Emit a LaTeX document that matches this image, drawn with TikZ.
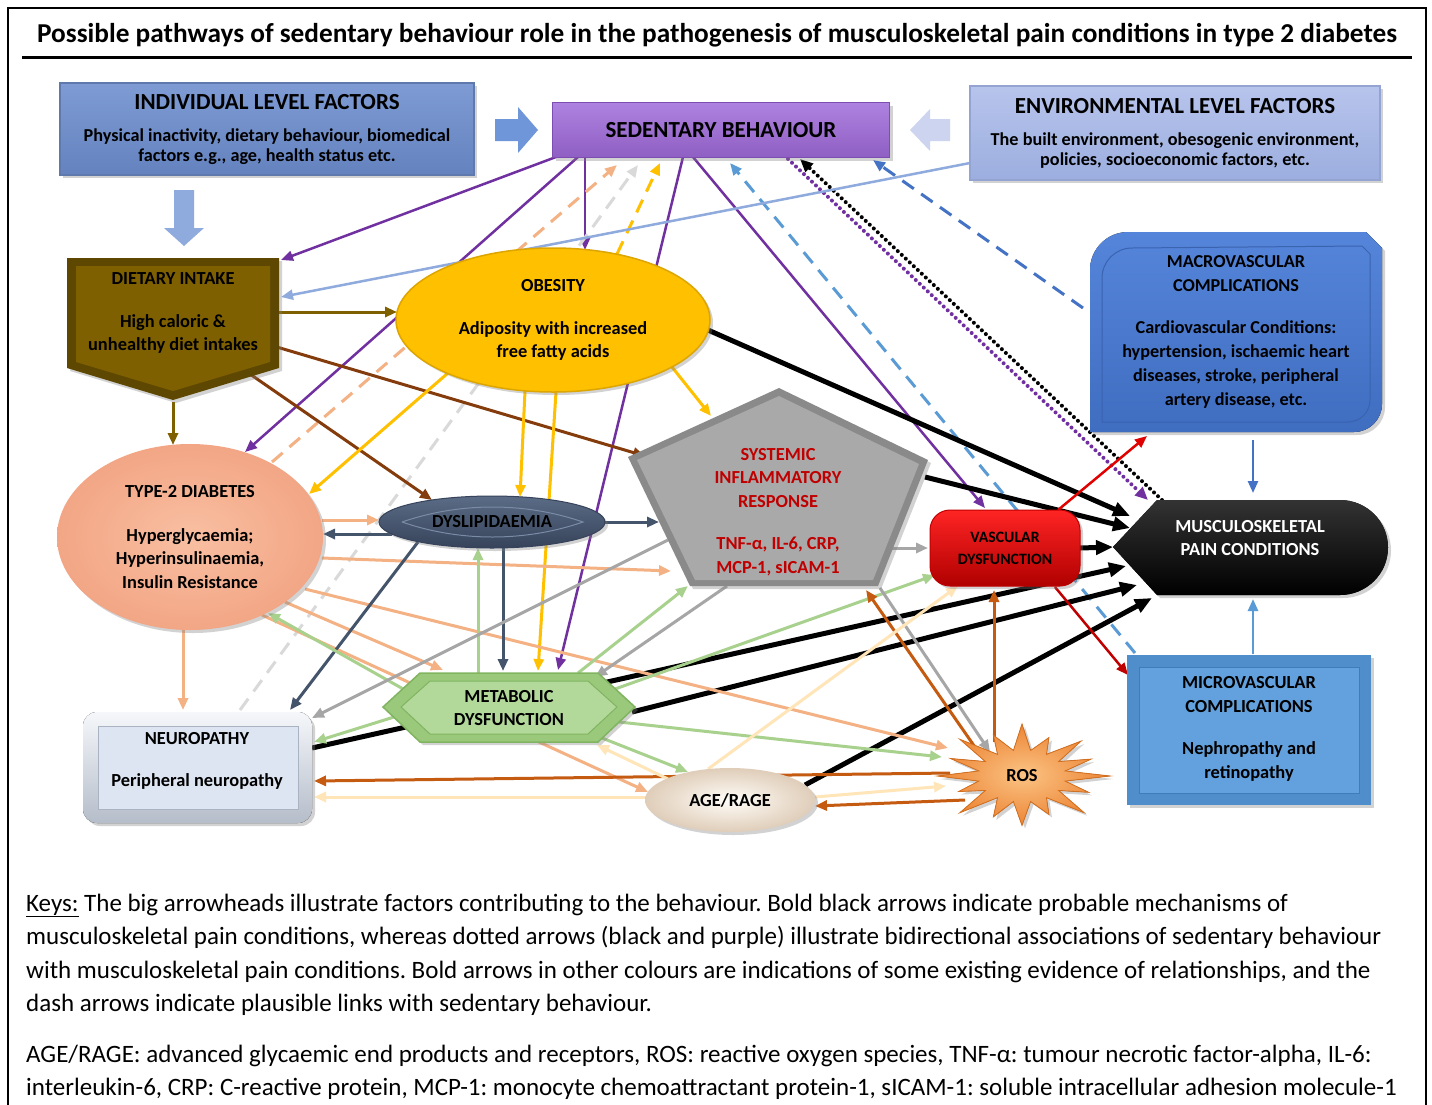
\documentclass[tikz,border=0pt]{standalone}
\usepackage{fontspec}
\setmainfont{Carlito}
\frenchspacing
\usetikzlibrary{arrows.meta,calc,shapes.geometric,shadows,backgrounds}

% arrow colours
\definecolor{cPurple}{HTML}{7030A0}
\definecolor{cSky}{HTML}{8FAADC}
\definecolor{cOlive}{HTML}{7F6000}
\definecolor{cBrown}{HTML}{843C0C}
\definecolor{cGold}{HTML}{FFC000}
\definecolor{cSalmon}{HTML}{F4B183}
\definecolor{cSlate}{HTML}{44546A}
\definecolor{cGreen}{HTML}{A9D18E}
\definecolor{cGrey}{HTML}{A6A6A6}
\definecolor{cLightGrey}{HTML}{D9D9D9}
\definecolor{cRed}{HTML}{C00000}
\definecolor{cRedB}{HTML}{E00000}
\definecolor{cBlue}{HTML}{4472C4}
\definecolor{cBlueL}{HTML}{5B9BD5}
\definecolor{cRust}{HTML}{C55A11}
\definecolor{cCream}{HTML}{FFE5B8}
% box colours
\definecolor{indT}{HTML}{7E9BD4}
\definecolor{indB}{HTML}{6482BE}
\definecolor{indD}{HTML}{5F79AD}
\definecolor{sbT}{HTML}{AE82E0}
\definecolor{sbB}{HTML}{8F5FC3}
\definecolor{sbD}{HTML}{7D4DB2}
\definecolor{envT}{HTML}{B7C4EC}
\definecolor{envB}{HTML}{9CAEDF}
\definecolor{envD}{HTML}{93A4D2}
\definecolor{arrR}{HTML}{6F96D8}
\definecolor{arrL}{HTML}{CDD4EF}
\definecolor{dietD}{HTML}{5E4700}
\definecolor{obD}{HTML}{DDA500}
\definecolor{t2dI}{HTML}{F9BFA2}
\definecolor{t2dO}{HTML}{F2A685}
\definecolor{dysT}{HTML}{5B6C86}
\definecolor{dysB}{HTML}{36435A}
\definecolor{dysL}{HTML}{7A8BA6}
\definecolor{sirD}{HTML}{8A8A8A}
\definecolor{sirF}{HTML}{A9A9A9}
\definecolor{vdT}{HTML}{FF2424}
\definecolor{vdB}{HTML}{B00000}
\definecolor{mskT}{HTML}{333333}
\definecolor{macT}{HTML}{5585DA}
\definecolor{macB}{HTML}{3F6DC0}
\definecolor{macL}{HTML}{3A63B0}
\definecolor{micO}{HTML}{4F8DCB}
\definecolor{micF}{HTML}{62A1DD}
\definecolor{micL}{HTML}{3F7CB9}
\definecolor{metO}{HTML}{9BC97C}
\definecolor{metD}{HTML}{80B460}
\definecolor{metI}{HTML}{B3D99A}
\definecolor{neuT}{HTML}{F5F7FA}
\definecolor{neuB}{HTML}{B5BDCA}
\definecolor{neuF}{HTML}{DDE5F3}
\definecolor{neuL}{HTML}{A9B3C2}
\definecolor{ageI}{HTML}{FFFDF8}
\definecolor{ageO}{HTML}{DFCDB9}
\definecolor{rosI}{HTML}{FBC384}
\definecolor{rosO}{HTML}{EC8535}
\definecolor{rosD}{HTML}{D46F1E}

\tikzset{
  lbl/.style={font=\fontsize{18.4}{23.5}\selectfont\bfseries, align=center, text=black, inner sep=0pt},
  con/.style={line width=3pt, -{Triangle[length=12pt,width=10pt]}},
  pcon/.style={con, line width=2.5pt, color=cPurple},
  blk/.style={line width=5pt, color=black, -{Triangle[length=17pt,width=14pt]}},
  dsh/.style={con, dash pattern=on 14pt off 9pt},
  dotline/.style={line width=4pt, line cap=round, dash pattern=on 0pt off 5.5pt, -{Triangle[length=13pt,width=11pt]}},
  shd/.style={drop shadow={opacity=0.35, shadow xshift=3pt, shadow yshift=-3pt}},
  keys/.style={anchor=base west, inner sep=0pt, font=\fontsize{25}{28}\selectfont\frenchspacing},
}

\begin{document}
\begin{tikzpicture}[x=1pt,y=-1pt]
\useasboundingbox (0,0) rectangle (1432,1104);

% ---------- frame and title ----------
\draw[line width=1.5pt] (8,1110) -- (8,8) -- (1426,8) -- (1426,1110);
\node[font=\fontsize{27.3}{30}\selectfont\bfseries, inner sep=0pt] (title) at (717,35)
  {Possible pathways of sedentary behaviour role in the pathogenesis of musculoskeletal pain conditions in type 2 diabetes};
\draw[line width=3pt] (22,57) -- (1412,57);

% ---------- top row ----------
\node[shd, rectangle, draw=indD, line width=1.2pt, top color=indT, bottom color=indB,
  minimum width=414pt, minimum height=92pt, lbl, font=\fontsize{18.2}{20}\selectfont\bfseries] (ind) at (267,129)
  {{\fontsize{23}{20}\selectfont INDIVIDUAL LEVEL FACTORS}\\[12pt]Physical inactivity, dietary behaviour, biomedical\\factors e.g., age, health status etc.};

\node[shd, rectangle, draw=sbD, line width=1.2pt, top color=sbT, bottom color=sbB,
  minimum width=337pt, minimum height=55pt, lbl, font=\fontsize{23}{24}\selectfont\bfseries] (sb) at (721,130)
  {SEDENTARY BEHAVIOUR};

\node[shd, rectangle, draw=envD, line width=1.2pt, top color=envT, bottom color=envB,
  minimum width=410pt, minimum height=94pt, lbl, font=\fontsize{18.2}{20}\selectfont\bfseries] (env) at (1175,133)
  {{\fontsize{23}{20}\selectfont ENVIRONMENTAL LEVEL FACTORS}\\[12pt]The built environment, obesogenic environment,\\policies, socioeconomic factors, etc.};

% big arrowheads (contributing factors)
\fill[arrR] (495,119) -- (518,119) -- (518,107) -- (538,130) -- (518,153) -- (518,141) -- (495,141) -- cycle;
\fill[arrL] (950,119) -- (930,119) -- (930,109) -- (910,130) -- (930,151) -- (930,141) -- (950,141) -- cycle;
\fill[cSky] (174,190) -- (194,190) -- (194,228) -- (204,228) -- (184,246) -- (164,228) -- (174,228) -- cycle;

% ---------- dietary intake ----------
\fill[shd, dietD] (67,258) -- (279,258) -- (279,368) -- (173,400) -- (67,368) -- cycle;
\fill[cOlive] (76,266) -- (270,266) -- (270,362) -- (173,391) -- (76,362) -- cycle;
\node[lbl] (diet) at (173,313) {DIETARY INTAKE\\[19pt]High caloric \&\\unhealthy diet intakes};

% ---------- obesity ----------
\node[shd, ellipse, fill=cGold, draw=obD, line width=1.5pt, minimum width=314pt, minimum height=144pt, lbl] (ob) at (553,320)
  {OBESITY\\[19pt]Adiposity with increased\\free fatty acids};

% ---------- type-2 diabetes ----------
\node[shd, ellipse, inner color=t2dI, outer color=t2dO, minimum width=266pt, minimum height=186pt, lbl] (t2d) at (190,537)
  {TYPE-2 DIABETES\\[20pt]Hyperglycaemia;\\Hyperinsulinaemia,\\Insulin Resistance};

% ---------- dyslipidaemia ----------
\node[shd, ellipse, top color=dysT, bottom color=dysB, draw=dysB, line width=1pt, minimum width=226pt, minimum height=52pt, lbl] (dys) at (492,522)
  {DYSLIPIDAEMIA};
\draw[dysL, line width=1pt] (402,522) .. controls (460,502) and (525,502) .. (583,522) .. controls (525,542) and (460,542) .. (402,522);

% ---------- systemic inflammatory response ----------
\fill[shd, sirD] (779,388) -- (928,460) -- (878,586) -- (690,586) -- (628,457) -- cycle;
\fill[sirF] (779,396) -- (919,464) -- (873,580) -- (695,580) -- (637,460) -- cycle;
\node[lbl, text=cRed] (sir) at (778,512) {SYSTEMIC\\INFLAMMATORY\\RESPONSE\\[19pt]TNF-α, IL-6, CRP,\\MCP-1, sICAM-1};

% ---------- vascular dysfunction ----------
\node[shd, rectangle, rounded corners=20pt, top color=vdT, bottom color=vdB, draw=cRed, line width=1pt,
  minimum width=150pt, minimum height=76pt, lbl, font=\fontsize{15.8}{22}\selectfont\bfseries] (vd) at (1005,548)
  {VASCULAR\\DYSFUNCTION};

% ---------- musculoskeletal pain conditions ----------
\fill[shd, top color=mskT, bottom color=black] (1113,547) -- (1157,500) -- (1340,500)
  arc[start angle=90, end angle=-90, x radius=48pt, y radius=47.5pt] -- (1157,595) -- cycle;
\node[lbl, text=white] (msk) at (1250,538) {MUSCULOSKELETAL\\PAIN CONDITIONS};

% ---------- macrovascular complications ----------
\fill[shd, top color=macT, bottom color=macB] (1090,432) -- (1090,270) arc[start angle=180, end angle=90, radius=38pt]
  -- (1366,232) -- (1382,248) -- (1382,404) arc[start angle=0, end angle=-90, radius=28pt] -- cycle;
\draw[macL, line width=1pt] (1102,422) -- (1102,278) arc[start angle=180, end angle=90, radius=30pt]
  -- (1362,246) -- (1370,254) -- (1370,400) arc[start angle=0, end angle=-90, radius=22pt] -- cycle;
\node[lbl, font=\fontsize{18.2}{24}\selectfont\bfseries] (macro) at (1236,332)
  {MACROVASCULAR\\COMPLICATIONS\\[18pt]Cardiovascular Conditions:\\hypertension, ischaemic heart\\diseases, stroke, peripheral\\artery disease, etc.};

% ---------- microvascular complications ----------
\fill[shd, micO] (1127,655) rectangle (1371,805);
\filldraw[fill=micF, draw=micL, line width=1pt] (1139,667) rectangle (1359,793);
\node[lbl] (micro) at (1249,729) {MICROVASCULAR\\COMPLICATIONS\\[19pt]Nephropathy and\\retinopathy};

% ---------- metabolic dysfunction ----------
\filldraw[shd, fill=metO, draw=metD, line width=1.5pt] (383,707) -- (420,673) -- (598,673) -- (635,707) -- (598,742) -- (420,742) -- cycle;
\filldraw[fill=metI, draw=metD, line width=1pt] (401,707) -- (430,681) -- (588,681) -- (617,707) -- (588,734) -- (430,734) -- cycle;
\node[lbl] (met) at (509,708) {METABOLIC\\DYSFUNCTION};

% ---------- neuropathy ----------
\fill[shd, rounded corners=14pt, top color=neuT, bottom color=neuB] (83,712) rectangle (312,823);
\filldraw[fill=neuF, draw=neuL, line width=1pt] (98,726) rectangle (298,809);
\node[lbl] (neu) at (197,761) {NEUROPATHY\\[19pt]Peripheral neuropathy};

% ---------- AGE/RAGE ----------
\node[shd, ellipse, inner color=ageI, outer color=ageO, minimum width=170pt, minimum height=64pt, lbl] (age) at (730,800) {AGE/RAGE};

% ---------- ROS burst ----------
\filldraw[shd, inner color=rosI, outer color=rosO, draw=rosD, line width=0.8pt, shift={(1022,776)}] (88,0)
  \foreach \a/\r in {11.25/.5, 22.5/.82, 33.75/.5, 45/1, 56.25/.5, 67.5/.8, 78.75/.5, 90/.95,
                     101.25/.5, 112.5/.85, 123.75/.5, 135/1, 146.25/.5, 157.5/.78, 168.75/.5, 180/.96,
                     191.25/.5, 202.5/.88, 213.75/.5, 225/1, 236.25/.5, 247.5/.85, 258.75/.5, 270/1,
                     281.25/.5, 292.5/.8, 303.75/.5, 315/.95, 326.25/.5, 337.5/.85, 348.75/.5}
  { -- ({88*\r*cos(\a)},{52*\r*sin(\a)}) } -- cycle;
\node[lbl] (ros) at (1022,776) {ROS};

% ---------- keys ----------
\node[keys] (k1) at (26,911) {\underline{Keys:} The big arrowheads illustrate factors contributing to the behaviour. Bold black arrows indicate probable mechanisms of};
\node[keys] (k2) at (26,944) {musculoskeletal pain conditions, whereas dotted arrows (black and purple) illustrate bidirectional associations of sedentary behaviour};
\node[keys] (k3) at (26,978) {with musculoskeletal pain conditions. Bold arrows in other colours are indications of some existing evidence of relationships, and the};
\node[keys] (k4) at (26,1011) {dash arrows indicate plausible links with sedentary behaviour.};
\node[keys] (k5) at (26,1062) {AGE/RAGE: advanced glycaemic end products and receptors, ROS: reactive oxygen species, TNF-α: tumour necrotic factor-alpha, IL-6:};
\node[keys] (k6) at (26,1095) {interleukin-6, CRP: C-reactive protein, MCP-1: monocyte chemoattractant protein-1, sICAM-1: soluble intracellular adhesion molecule-1};

% ---------- connectors ----------
\begin{scope}[on background layer]
\fill[white] (0,0) rectangle (1432,1104);

% sedentary behaviour outward (purple)
\draw[pcon] ($(sb)+(-165,27)$) -- ($(diet)+(108,-53)$);
\draw[pcon] ($(sb)+(-143,27)$) -- ($(t2d)+(55,-85)$);
\draw[pcon] ($(sb)+(-136,27)$) -- ($(ob)+(32,-70)$);
\draw[pcon] ($(sb)+(-38,27)$) -- ($(met)+(49,-38)$);
\draw[pcon] ($(sb)+(-28,27)$) -- ($(vd)+(-20,-40)$);

% bidirectional dotted links
\draw[dotline, cPurple] ($(sb)+(67,29)$) -- ($(msk)+(-102,-38)$);
\draw[dotline, black] ($(msk)+(-88,-38)$) -- ($(sb)+(79,29)$);

% plausible links (dashed) towards sedentary behaviour
\draw[dsh, cSalmon] ($(t2d)+(82,-75)$) -- ($(sb)+(-104,35)$);
\draw[dsh, cLightGrey] ($(neu)+(43,-51)$) -- ($(sb)+(-83,35)$);
\draw[dsh, cGold] ($(ob)+(64,-66)$) -- ($(sb)+(-61,33)$);
\draw[dsh, cBlueL] ($(micro)+(-114,-76)$) -- ($(sb)+(9,33)$);
\draw[dsh, cBlue] ($(macro)+(-153,-24)$) -- ($(sb)+(152,30)$);

% environment to diet
\draw[con, line width=2.5pt, cSky] ($(env)+(-205,30)$) -- ($(diet)+(108,-16)$);

% dietary intake
\draw[con, cOlive] ($(diet)+(106,-1)$) -- ($(ob)+(-156,-8)$);
\draw[con, cOlive] ($(diet)+(0,89)$) -- ($(t2d)+(-17,-92)$);
\draw[con, cBrown] ($(diet)+(97,32)$) -- ($(sir)+(-133,-56)$);
\draw[con, cBrown] ($(diet)+(74,59)$) -- ($(dys)+(-60,-22)$);

% obesity
\draw[con, cGold] ($(ob)+(-105,53)$) -- ($(t2d)+(119,-43)$);
\draw[con, cGold] ($(ob)+(-28,71)$) -- ($(dys)+(28,-25)$);
\draw[con, cGold] ($(ob)+(3,72)$) -- ($(met)+(29,-37)$);
\draw[con, cGold] ($(ob)+(119,47)$) -- ($(sir)+(-67,-96)$);

% probable mechanisms (bold black)
\draw[blk] ($(ob)+(155,10)$) -- ($(msk)+(-120,-22)$);
\draw[blk] ($(sir)+(147,-35)$) -- ($(msk)+(-120,-10)$);
\draw[blk] ($(vd)+(75,0)$) -- ($(msk)+(-137,9)$);
\draw[blk] ($(neu)+(115,-13)$) -- ($(msk)+(-124,28)$);
\draw[blk] ($(met)+(123,4)$) -- ($(msk)+(-113,47)$);
\draw[blk] ($(age)+(75,-15)$) -- ($(msk)+(-98,60)$);

% type-2 diabetes
\draw[con, cSalmon] ($(t2d)+(132,-17)$) -- ($(dys)+(-113,-2)$);
\draw[con, cSalmon] ($(t2d)+(132,21)$) -- ($(sir)+(-107,59)$);
\draw[con, cSalmon] ($(t2d)+(115,52)$) -- ($(ros)+(-74,-28)$);
\draw[con, cSalmon] ($(t2d)+(95,65)$) -- ($(met)+(-66,-38)$);
\draw[con, cSalmon] ($(t2d)+(72,78)$) -- ($(age)+(-82,-8)$);
\draw[con, cSalmon] ($(t2d)+(-7,93)$) -- ($(neu)+(-14,-51)$);

% dyslipidaemia
\draw[con, cSlate] ($(dys)+(-100,12)$) -- ($(t2d)+(133,-3)$);
\draw[con, cSlate] ($(dys)+(113,0)$) -- ($(sir)+(-119,10)$);
\draw[con, cSlate] ($(dys)+(11,26)$) -- ($(met)+(-6,-37)$);
\draw[con, cSlate] ($(dys)+(-74,20)$) -- ($(neu)+(93,-51)$);

% metabolic dysfunction
\draw[con, cGreen] ($(met)+(-31,-35)$) -- ($(dys)+(-14,26)$);
\draw[con, cGreen] ($(met)+(-104,-18)$) -- ($(t2d)+(78,76)$);
\draw[con, cGreen] ($(met)+(-115,9)$) -- ($(neu)+(117,-19)$);
\draw[con, cGreen] ($(met)+(69,-35)$) -- ($(sir)+(-90,74)$);
\draw[con, cGreen] ($(met)+(106,-19)$) -- ($(vd)+(-70,27)$);
\draw[con, cGreen] ($(met)+(110,14)$) -- ($(ros)+(-80,-19)$);
\draw[con, cGreen] ($(met)+(93,30)$) -- ($(age)+(-42,-28)$);

% systemic inflammatory response
\draw[con, cGrey] ($(sir)+(-110,28)$) -- ($(neu)+(115,-43)$);
\draw[con, cGrey] ($(sir)+(-51,74)$) -- ($(met)+(86,-31)$);
\draw[con, cGrey] ($(sir)+(110,36)$) -- ($(vd)+(-77,0)$);
\draw[con, cGrey] ($(sir)+(102,76)$) -- ($(ros)+(-32,-24)$);

% vascular dysfunction and complications
\draw[con, line width=2.5pt, cRedB] ($(vd)+(53,-38)$) -- ($(macro)+(-89,104)$);
\draw[con, line width=2.5pt, cRed] ($(vd)+(50,39)$) -- ($(micro)+(-121,-54)$);
\draw[con, line width=2.5pt, cBlue] ($(macro)+(17,108)$) -- ($(msk)+(3,-45)$);
\draw[con, line width=2.5pt, cBlueL] ($(micro)+(4,-75)$) -- ($(msk)+(3,61)$);

% reactive oxygen species
\draw[con, cRust] ($(ros)+(-45,-26)$) -- ($(sir)+(88,78)$);
\draw[con, cRust] ($(ros)+(-28,-34)$) -- ($(vd)+(-11,42)$);
\draw[con, cRust] ($(ros)+(-72,-3)$) -- ($(neu)+(117,20)$);
\draw[con, cRust] ($(ros)+(-57,24)$) -- ($(age)+(85,6)$);

% AGE/RAGE
\draw[con, cCream] ($(age)+(-84,-3)$) -- ($(neu)+(117,36)$);
\draw[con, cCream] ($(age)+(-62,-21)$) -- ($(met)+(88,37)$);
\draw[con, cCream] ($(age)+(-22,-31)$) -- ($(vd)+(-47,38)$);
\draw[con, cCream] ($(age)+(85,-3)$) -- ($(ros)+(-76,10)$);
\end{scope}

\end{tikzpicture}
\end{document}
